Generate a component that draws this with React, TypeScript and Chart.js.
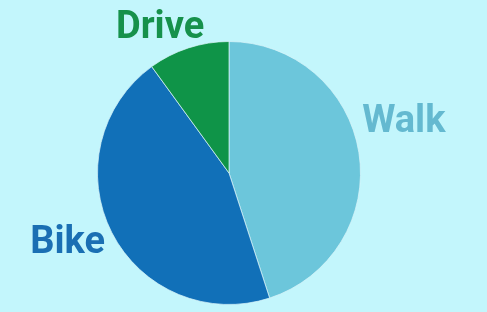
import React, { useEffect, useRef } from "react";
import { Chart, registerables } from "chart.js";

Chart.register(...registerables);

const categories = ["Walk", "Bike", "Drive"];
const shares = [45, 45, 10];
const sliceColors = ["#6cc6db", "#1170b8", "#0f9448"];
const labelColors = ["#64b9d0", "#1a6fb3", "#16914b"];
// label placement: angular shift (deg) from slice middle, distance as multiple of radius
const labelAngleShift = [-8, 4.4, -7];
const labelDistance = [1.39, 1.33, 1.24];

const outsideLabels = {
  id: "outsideLabels",
  afterDatasetsDraw(chart: any) {
    const ctx = chart.ctx;
    const meta = chart.getDatasetMeta(0);
    ctx.save();
    ctx.font = "bold 38px Roboto";
    ctx.textAlign = "center";
    ctx.textBaseline = "middle";
    meta.data.forEach((arc: any, i: number) => {
      const p = arc.getProps(["x", "y", "startAngle", "endAngle", "outerRadius"], true);
      const mid = (p.startAngle + p.endAngle) / 2 + (labelAngleShift[i] * Math.PI) / 180;
      const d = p.outerRadius * labelDistance[i];
      const x = p.x + Math.cos(mid) * d;
      const y = p.y + Math.sin(mid) * d + 3;
      ctx.fillStyle = labelColors[i];
      ctx.fillText(categories[i], x, y);
    });
    ctx.restore();
  },
};

export default function App() {
  const ref = useRef<HTMLCanvasElement | null>(null);
  useEffect(() => {
    if (!ref.current) return;
    const chart = new Chart(ref.current, {
      type: "pie",
      data: {
        labels: categories,
        datasets: [
          {
            data: shares,
            backgroundColor: sliceColors,
            borderColor: "rgba(220,245,250,0.7)",
            borderWidth: 1,
          },
        ],
      },
      options: {
        animation: false,
        responsive: false,
        maintainAspectRatio: false,
        layout: { padding: { top: 41, bottom: 7, left: 0, right: 29 } },
        plugins: {
          legend: { display: false },
          tooltip: { enabled: false },
        },
      },
      plugins: [outsideLabels],
    });
    return () => chart.destroy();
  }, []);
  return (
    <div
      style={{
        position: "fixed",
        left: 0,
        top: 0,
        width: 487,
        height: 312,
        background: "#c3f6fc",
      }}
    >
      <canvas ref={ref} width={487} height={312} style={{ display: "block" }} />
    </div>
  );
}
